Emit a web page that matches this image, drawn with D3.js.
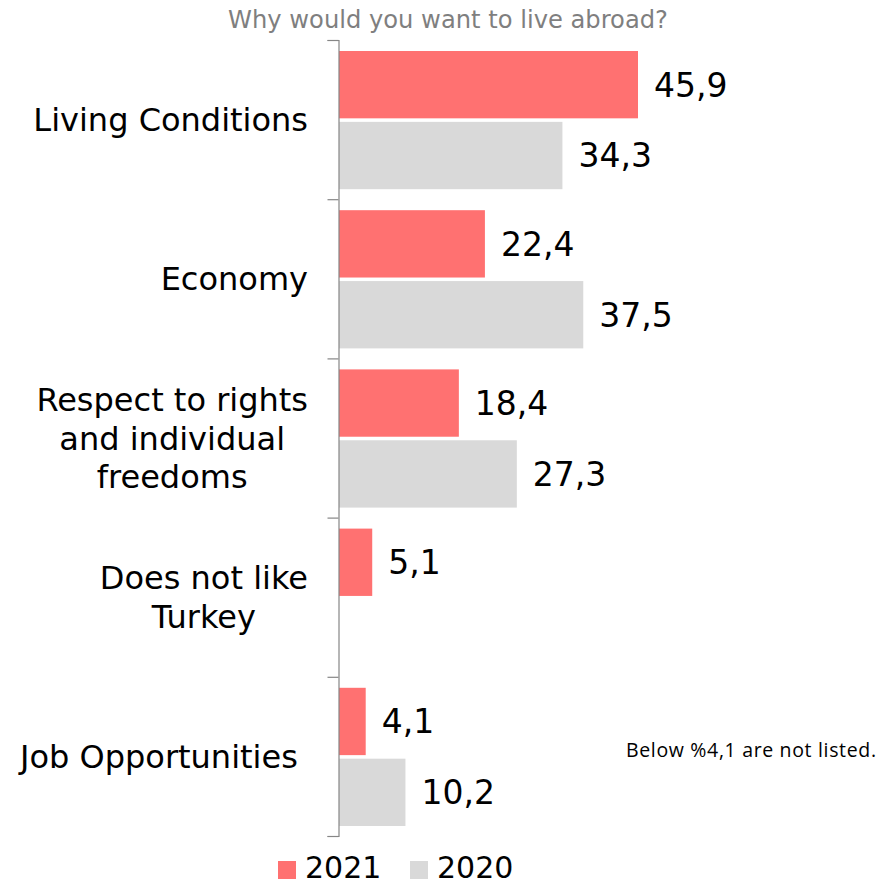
<!DOCTYPE html>
<html>
<head>
<meta charset="utf-8">
<script src="https://cdn.jsdelivr.net/npm/d3@7"></script>
<style>
  body { margin: 0; background: #fff; }
  #chart { width: 879px; height: 885px; }
</style>
</head>
<body>
<div id="chart"></div>
<script>
//Datos
const categorias = ['Living Conditions', 'Economy', 'Respect to rights and individual freedoms', 'Does not like Turkey', 'Job Opportunities'];
const etiquetas = [['Living Conditions'], ['Economy'], ['Respect to rights', 'and individual', 'freedoms'], ['Does not like', 'Turkey'], ['Job Opportunities\u00a0']];
const series = ['2021', '2020'];
const valores2021 = [45.9, 22.4, 18.4, 5.1, 4.1];
const valores2020 = [34.3, 37.5, 27.3, null, 10.2];

//Colores
const COLOR_2021 = '#FF7171',
COLOR_2020 = '#D9D9D9',
COLOR_AXIS = '#868686',
COLOR_TITLE = '#7F7F7F';

let width = 879, height = 885;

let svg = d3.select('#chart')
    .append('svg')
        .attr('width', width)
        .attr('height', height)
        .style('font-family', "'DejaVu Sans', Verdana, sans-serif");

let data = categorias.map(function(c, i) {
    return { cat: c, lines: etiquetas[i], '2021': valores2021[i], '2020': valores2020[i] };
});

//Escalas
let x = d3.scaleLinear()
    .domain([0, 50])
    .range([339, 339 + 6.514 * 50]);

let y = d3.scaleBand()
    .domain(categorias)
    .range([40, 836])
    .padding(0);

let yIdx = d3.scaleLinear()
    .domain([0, categorias.length])
    .range([40, 836]);

let ySub = d3.scaleBand()
    .domain(series)
    .range([11, y.bandwidth() - 10])
    .paddingInner(0.05);

let color = d3.scaleOrdinal()
    .domain(series)
    .range([COLOR_2021, COLOR_2020]);

//Título
svg.append('text')
    .attr('x', 448)
    .attr('y', 28)
    .attr('text-anchor', 'middle')
    .attr('fill', COLOR_TITLE)
    .style('font-size', '24.2px')
    .text('Why would you want to live abroad?');

//Barras
let grupos = svg.append('g')
    .selectAll('g')
    .data(data)
    .enter()
    .append('g')
    .attr('transform', function(d) { return 'translate(0,' + y(d.cat) + ')'; });

let items = grupos.selectAll('g')
    .data(function(d) { return series.map(function(k) { return { key: k, value: d[k] }; }).filter(function(e) { return e.value != null; }); })
    .enter()
    .append('g');

items.append('rect')
    .attr('x', x(0))
    .attr('y', function(d) { return ySub(d.key); })
    .attr('height', ySub.bandwidth())
    .attr('width', function(d) { return x(d.value) - x(0); })
    .attr('fill', function(d) { return color(d.key); });

items.append('text')
    .attr('x', function(d) { return x(d.value) + 16; })
    .attr('y', function(d) { return ySub(d.key) + ySub.bandwidth() / 2; })
    .attr('dy', '0.36em')
    .attr('fill', '#000')
    .style('font-size', '33px')
    .text(function(d) { return d3.format('.1f')(d.value).replace('.', ','); });

//Eje vertical
svg.append('g')
    .attr('transform', 'translate(338.5,0)')
    .call(d3.axisLeft(yIdx).tickValues(d3.range(categorias.length + 1)).tickSize(11).tickSizeOuter(11).tickFormat(''))
    .call(function(g) {
        g.selectAll('path, line').attr('stroke', COLOR_AXIS).attr('stroke-width', 1.2);
    });

//Etiquetas de categoría (bloque alineado a la derecha, líneas centradas)
let labelRight = 308, lineH = 38.5;
let catLabels = svg.append('g').style('font-size', '32px');
data.forEach(function(d) {
    let t = catLabels.append('text').attr('fill', '#000').attr('text-anchor', 'middle');
    let cy = y(d.cat) + y.bandwidth() / 2;
    let n = d.lines.length;
    d.lines.forEach(function(l, i) {
        t.append('tspan')
            .attr('y', cy + (i - (n - 1) / 2) * lineH)
            .attr('dy', '0.36em')
            .text(l);
    });
    let maxW = d3.max(t.selectAll('tspan').nodes(), function(n) { return n.getComputedTextLength(); });
    t.selectAll('tspan').attr('x', labelRight - maxW / 2);
});

//Nota
svg.append('text')
    .attr('x', 626)
    .attr('y', 757)
    .attr('textLength', 250)
    .attr('lengthAdjust', 'spacing')
    .attr('fill', '#000')
    .style('font-family', "'Open Sans', 'Liberation Sans', sans-serif")
    .style('font-size', '19.5px')
    .text('Below %4,1 are not listed.');

//Leyenda
let legend = svg.append('g').attr('transform', 'translate(0,867)');
let legX = [278, 410];
series.forEach(function(s, i) {
    legend.append('rect')
        .attr('x', legX[i])
        .attr('y', -6)
        .attr('width', 18)
        .attr('height', 18)
        .attr('fill', color(s));
    legend.append('text')
        .attr('x', legX[i] + 27)
        .attr('y', 11)
        .style('font-size', '30px')
        .text(s);
});
</script>
</body>
</html>
